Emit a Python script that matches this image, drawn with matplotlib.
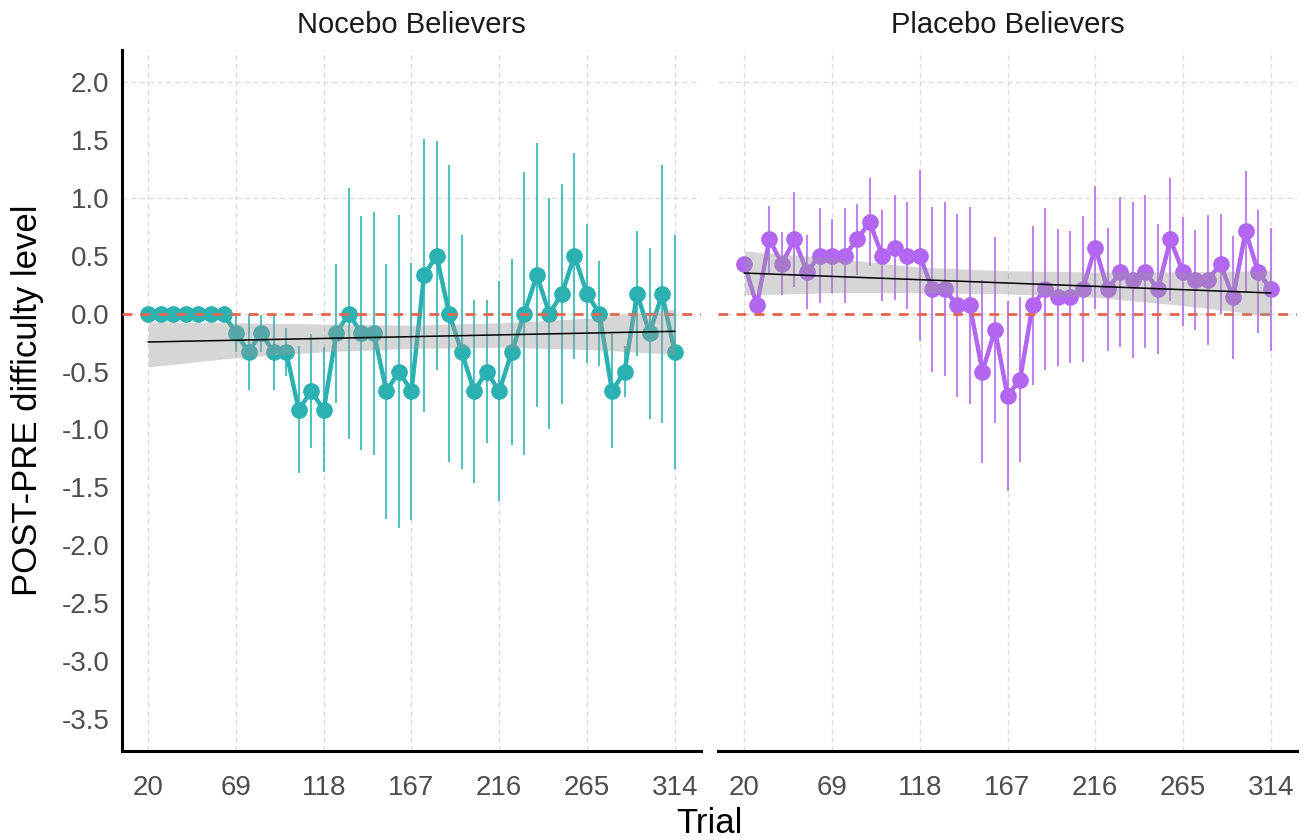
import matplotlib
matplotlib.use("Agg")
import matplotlib.pyplot as plt

plt.rcParams['font.family'] = ['Liberation Sans', 'DejaVu Sans']
plt.rcParams['axes.unicode_minus'] = False

# ---------------- data ----------------
trials = [20, 27, 34, 41, 48, 55, 62, 69, 76, 83, 90, 97, 104, 111, 118, 125,
          132, 139, 146, 153, 160, 167, 174, 181, 188, 195, 202, 209, 216, 223,
          230, 237, 244, 251, 258, 265, 272, 279, 286, 293, 300, 307, 314]

nocebo_mean = [0, 0, 0, 0, 0, 0, 0, -0.17, -0.33, -0.17, -0.33, -0.33, -0.83,
               -0.67, -0.83, -0.17, 0, -0.17, -0.17, -0.67, -0.5, -0.67, 0.33,
               0.5, 0, -0.33, -0.67, -0.5, -0.67, -0.33, 0, 0.33, 0, 0.17, 0.5,
               0.17, 0, -0.67, -0.5, 0.17, -0.17, 0.17, -0.33]
nocebo_err = [0, 0, 0, 0, 0, 0, 0, 0.16, 0.33, 0.16, 0.33, 0.21, 0.55, 0.49,
              0.54, 0.60, 1.08, 1.01, 1.05, 1.10, 1.35, 1.11, 1.18, 0.99, 1.28,
              1.01, 0.79, 0.62, 0.95, 0.80, 1.22, 1.14, 1.00, 0.95, 0.89, 0.60,
              0.45, 0.49, 0.22, 0.54, 0.74, 1.11, 1.01]

placebo_mean = [0.43, 0.07, 0.64, 0.43, 0.64, 0.36, 0.5, 0.5, 0.5, 0.64, 0.79,
                0.5, 0.57, 0.5, 0.5, 0.21, 0.21, 0.07, 0.07, -0.5, -0.14, -0.71,
                -0.57, 0.07, 0.21, 0.14, 0.14, 0.21, 0.57, 0.21, 0.36, 0.29,
                0.36, 0.21, 0.64, 0.36, 0.29, 0.29, 0.43, 0.14, 0.71, 0.36, 0.21]
placebo_err = [0, 0.06, 0.29, 0.27, 0.41, 0.32, 0.41, 0.32, 0.41, 0.31, 0.38,
               0.39, 0.45, 0.46, 0.74, 0.71, 0.75, 0.79, 0.85, 0.79, 0.80, 0.82,
               0.71, 0.69, 0.70, 0.59, 0.57, 0.63, 0.53, 0.53, 0.65, 0.67, 0.66,
               0.56, 0.53, 0.47, 0.43, 0.56, 0.43, 0.53, 0.52, 0.53, 0.53]

# linear trend + confidence band
fit_x = [20, 314]
nocebo_fit = [-0.245, -0.153]
placebo_fit = [0.35, 0.178]
band_x = [20, 69, 118, 167, 216, 265, 314]
nocebo_lo = [-0.46, -0.38, -0.33, -0.30, -0.29, -0.31, -0.35]
nocebo_hi = [-0.07, -0.08, -0.09, -0.10, -0.08, -0.04, 0.04]
placebo_lo = [0.16, 0.18, 0.18, 0.17, 0.14, 0.07, -0.02]
placebo_hi = [0.54, 0.48, 0.40, 0.37, 0.36, 0.36, 0.37]

panel_titles = ["Nocebo Believers", "Placebo Believers"]
x_ticks = [20, 69, 118, 167, 216, 265, 314]
y_ticks = [-3.5, -3.0, -2.5, -2.0, -1.5, -1.0, -0.5, 0.0, 0.5, 1.0, 1.5, 2.0]
y_tick_labels = ["-3.5", "-3.0", "-2.5", "-2.0", "-1.5", "-1.0", "-0.5",
                 "0.0", "0.5", "1.0", "1.5", "2.0"]
y_grid = [0.0, 1.0, 2.0]
x_label = "Trial"
y_label = "POST-PRE difficulty level"

# ---------------- figure ----------------
W, H = 1304, 840
fig = plt.figure(figsize=(W / 100, H / 100), dpi=100)


def rect(l, t, r, b):
    return [l / W, 1 - b / H, (r - l) / W, (b - t) / H]


ax1 = fig.add_axes(rect(122, 50, 701, 751))
ax2 = fig.add_axes(rect(718, 50, 1297, 751))

TEAL = "#2BB1B1"
PURPLE = "#B266F2"
REF_RED = "#E2664F"
GRID = "#DADADA"
TICK_COL = "#4D4D4D"


def draw_panel(ax, mean, err, color, fit, lo, hi, show_y):
    ax.set_xlim(5.3, 328.7)
    ax.set_ylim(-3.775, 2.275)
    for xv in x_ticks:
        ax.axvline(xv, color=GRID, lw=0.9, ls=(0, (4, 3)), zorder=0)
    for yv in y_grid:
        ax.axhline(yv, color=GRID, lw=0.9, ls=(0, (4, 3)), zorder=0)
    ax.errorbar(trials, mean, yerr=err, fmt="none", ecolor=color,
                elinewidth=1.5, capsize=0, alpha=0.8, zorder=2)
    ax.plot(trials, mean, color=color, lw=3.2, zorder=3)
    ax.plot(trials, mean, "o", color=color, ms=11, mec=color, zorder=4)
    ax.axhline(0, color=REF_RED, lw=2.0, ls=(0, (3.5, 3)), zorder=5)
    ax.fill_between(band_x, lo, hi, color="#999999", alpha=0.4, lw=0,
                    zorder=6)
    ax.plot(fit_x, fit, color="black", lw=1.1, zorder=7)

    ax.set_xticks(x_ticks)
    ax.set_xticklabels([str(v) for v in x_ticks])
    ax.set_yticks(y_ticks)
    ax.set_yticklabels(y_tick_labels if show_y else [])
    ax.tick_params(axis="both", length=0, labelsize=20, labelcolor=TICK_COL)
    ax.tick_params(axis="x", pad=17)
    ax.tick_params(axis="y", pad=9)
    for s in ["top", "right"]:
        ax.spines[s].set_visible(False)
    ax.spines["left"].set_visible(show_y)
    for s in ["left", "bottom"]:
        ax.spines[s].set_linewidth(2.2)
        ax.spines[s].set_color("black")
    ax.set_facecolor("white")


draw_panel(ax1, nocebo_mean, nocebo_err, TEAL, nocebo_fit, nocebo_lo,
           nocebo_hi, True)
draw_panel(ax2, placebo_mean, placebo_err, PURPLE, placebo_fit, placebo_lo,
           placebo_hi, False)

fig.text((122 + 701) / 2 / W, 1 - 25 / H, panel_titles[0], ha="center",
         va="center", fontsize=21, color="#1A1A1A")
fig.text((718 + 1297) / 2 / W, 1 - 25 / H, panel_titles[1], ha="center",
         va="center", fontsize=21, color="#1A1A1A")
fig.text((122 + 1297) / 2 / W, 7 / H, x_label, ha="center", va="baseline",
         fontsize=25)
fig.text(28 / W, 1 - 400 / H, y_label, ha="center", va="center",
         rotation=90, fontsize=25)

fig.savefig("out.png", dpi=100, facecolor="white")
